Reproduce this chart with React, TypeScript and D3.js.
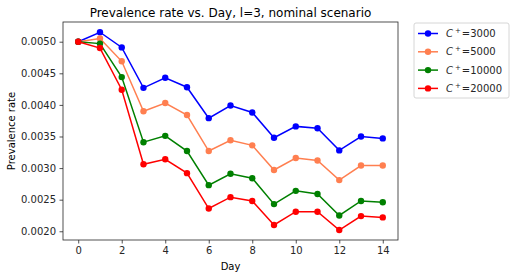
import React, {useEffect, useRef} from "react";
import * as d3 from "d3";

const days = [0, 1, 2, 3, 4, 5, 6, 7, 8, 9, 10, 11, 12, 13, 14];
const labels = ["3000", "5000", "10000", "20000"];
const colors = ["#0000ff", "#ff7f50", "#008000", "#ff0000"];
const c3000 = [0.0050, 0.00515, 0.00491, 0.00427, 0.00443, 0.00428, 0.00379, 0.00399, 0.00388, 0.00348, 0.00366, 0.00363, 0.00328, 0.00350, 0.00347];
const c5000 = [0.0050, 0.00505, 0.00469, 0.00390, 0.00403, 0.00384, 0.00327, 0.00344, 0.00336, 0.00297, 0.00316, 0.00312, 0.00281, 0.00304, 0.00304];
const c10000 = [0.0050, 0.00497, 0.00444, 0.00341, 0.00351, 0.00327, 0.00273, 0.00291, 0.00284, 0.00243, 0.00264, 0.00259, 0.00225, 0.00248, 0.00246];
const c20000 = [0.0050, 0.00490, 0.00424, 0.00306, 0.00314, 0.00292, 0.00236, 0.00254, 0.00248, 0.00210, 0.00231, 0.00231, 0.00202, 0.00224, 0.00222];
const series = [c3000, c5000, c10000, c20000];
const xTicks = [0, 2, 4, 6, 8, 10, 12, 14];
const yTicks = [0.002, 0.0025, 0.003, 0.0035, 0.004, 0.0045, 0.005];

const W = 515, H = 278;
const M = {left: 63, right: 398, top: 22, bottom: 240};
const FONT = "DejaVu Sans, sans-serif";

export default function App() {
  const ref = useRef<SVGSVGElement>(null);

  useEffect(() => {
    const svg = d3.select(ref.current);
    svg.selectAll("*").remove();

    const x = d3.scaleLinear().domain([-0.7, 14.7]).range([M.left, M.right]);
    const y = d3.scaleLinear().domain([0.001862, 0.005312]).range([M.bottom, M.top]);

    svg.append("rect").attr("width", W).attr("height", H).attr("fill", "white");

    // axes
    const xAxis = svg.append("g").attr("transform", `translate(0,${M.bottom})`)
      .call(d3.axisBottom(x).tickValues(xTicks).tickSize(3.5).tickPadding(3.5).tickFormat(d3.format("d")));
    const yAxis = svg.append("g").attr("transform", `translate(${M.left},0)`)
      .call(d3.axisLeft(y).tickValues(yTicks).tickSize(3.5).tickPadding(3.5).tickFormat(d3.format(".4f")));
    [xAxis, yAxis].forEach(a => {
      a.select(".domain").remove();
      a.selectAll("text").attr("font-family", FONT).attr("font-size", 10).attr("fill", "#262626");
      a.selectAll("line").attr("stroke", "#262626").attr("stroke-width", 0.8);
    });

    const lineGen = d3.line<number>().x((_, i) => x(days[i])).y(d => y(d));
    series.forEach((s, k) => {
      svg.append("path").datum(s).attr("d", lineGen).attr("fill", "none")
        .attr("stroke", colors[k]).attr("stroke-width", 1.5);
      svg.append("g").selectAll("circle").data(s).join("circle")
        .attr("cx", (_, i) => x(days[i])).attr("cy", d => y(d)).attr("r", 3.2)
        .attr("fill", colors[k]);
    });

    svg.append("rect").attr("x", M.left).attr("y", M.top)
      .attr("width", M.right - M.left).attr("height", M.bottom - M.top)
      .attr("fill", "none").attr("stroke", "#262626").attr("stroke-width", 0.8);

    svg.append("text").attr("x", (M.left + M.right) / 2).attr("y", 17)
      .attr("text-anchor", "middle").attr("font-family", FONT).attr("font-size", 12)
      .text("Prevalence rate vs. Day, l=3, nominal scenario");
    svg.append("text").attr("x", (M.left + M.right) / 2).attr("y", 270)
      .attr("text-anchor", "middle").attr("font-family", FONT).attr("font-size", 10)
      .text("Day");
    svg.append("text").attr("transform", `translate(15,${(M.top + M.bottom) / 2}) rotate(-90)`)
      .attr("text-anchor", "middle").attr("font-family", FONT).attr("font-size", 10)
      .text("Prevalence rate");

    // legend
    const lg = svg.append("g").attr("transform", "translate(414,23)");
    lg.append("rect").attr("width", 95).attr("height", 75).attr("rx", 2)
      .attr("fill", "white").attr("stroke", "#cccccc").attr("stroke-width", 0.8);
    labels.forEach((lab, k) => {
      const cy = 10.5 + k * 18.3;
      lg.append("line").attr("x1", 4).attr("x2", 24).attr("y1", cy).attr("y2", cy)
        .attr("stroke", colors[k]).attr("stroke-width", 1.5);
      lg.append("circle").attr("cx", 14).attr("cy", cy).attr("r", 3.2).attr("fill", colors[k]);
      const t = lg.append("text").attr("x", 32).attr("y", cy + 3.5)
        .attr("font-family", FONT).attr("font-size", 10).attr("fill", "#262626");
      t.append("tspan").attr("font-style", "italic").text("C");
      t.append("tspan").attr("dx", 2).attr("dy", -4).attr("font-size", 7).text("+");
      t.append("tspan").attr("dy", 4).attr("dx", 1).text("=" + lab);
    });
  }, []);

  return (
    <div style={{position: "absolute", left: 0, top: 0, width: W, height: H}}>
      <svg ref={ref} width={W} height={H} style={{display: "block"}} />
    </div>
  );
}
